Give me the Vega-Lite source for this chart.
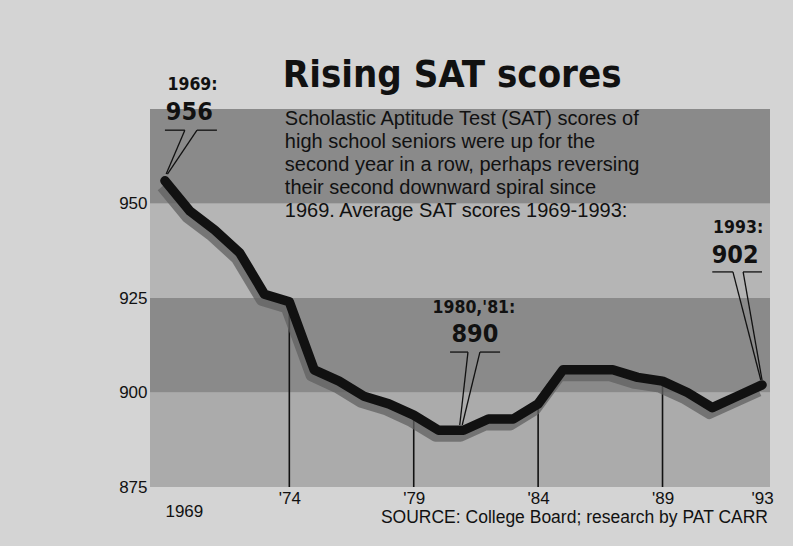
{
  "$schema": "https://vega.github.io/schema/vega-lite/v6.json",
  "width": 620,
  "height": 378,
  "autosize": {"type": "none"},
  "padding": {"left": 150, "top": 109, "right": 23, "bottom": 59},
  "background": "#d4d4d4",
  "config": {
    "view": {"stroke": null},
    "axis": {"grid": false, "ticks": false, "domain": false, "title": null, "labelFont": "Liberation Sans", "labelFontSize": 17, "labelColor": "#111"}
  },
  "datasets": {
    "sat": [
      {"year": 1969, "score": 956}, {"year": 1970, "score": 948}, {"year": 1971, "score": 943},
      {"year": 1972, "score": 937}, {"year": 1973, "score": 926}, {"year": 1974, "score": 924},
      {"year": 1975, "score": 906}, {"year": 1976, "score": 903}, {"year": 1977, "score": 899},
      {"year": 1978, "score": 897}, {"year": 1979, "score": 894}, {"year": 1980, "score": 890},
      {"year": 1981, "score": 890}, {"year": 1982, "score": 893}, {"year": 1983, "score": 893},
      {"year": 1984, "score": 897}, {"year": 1985, "score": 906}, {"year": 1986, "score": 906},
      {"year": 1987, "score": 906}, {"year": 1988, "score": 904}, {"year": 1989, "score": 903},
      {"year": 1990, "score": 900}, {"year": 1991, "score": 896}, {"year": 1992, "score": 899},
      {"year": 1993, "score": 902}
    ],
    "bands": [
      {"lo": 875, "hi": 900, "shade": "lower"},
      {"lo": 900, "hi": 925, "shade": "dark"},
      {"lo": 925, "hi": 950, "shade": "light"},
      {"lo": 950, "hi": 975, "shade": "dark"}
    ],
    "drops": [
      {"year": 1974, "score": 924, "base": 875},
      {"year": 1979, "score": 894, "base": 875},
      {"year": 1984, "score": 897, "base": 875},
      {"year": 1989, "score": 903, "base": 875}
    ],
    "leaders": [
      {"x1": 1969.0, "y1": 969.4, "x2": 1969.8, "y2": 969.4},
      {"x1": 1970.29, "y1": 969.4, "x2": 1971.09, "y2": 969.4},
      {"x1": 1969.8, "y1": 969.4, "x2": 1969.05, "y2": 957.8},
      {"x1": 1970.29, "y1": 969.4, "x2": 1969.1, "y2": 957.8},
      {"x1": 1980.46, "y1": 910.7, "x2": 1981.18, "y2": 910.7},
      {"x1": 1981.66, "y1": 910.7, "x2": 1982.47, "y2": 910.7},
      {"x1": 1981.18, "y1": 910.7, "x2": 1980.85, "y2": 891.4},
      {"x1": 1981.66, "y1": 910.7, "x2": 1980.95, "y2": 891.4},
      {"x1": 1991.0, "y1": 931.9, "x2": 1991.83, "y2": 931.9},
      {"x1": 1992.24, "y1": 931.9, "x2": 1993.0, "y2": 931.9},
      {"x1": 1991.83, "y1": 931.9, "x2": 1992.95, "y2": 903.3},
      {"x1": 1992.24, "y1": 931.9, "x2": 1993.0, "y2": 903.3}
    ],
    "heads": [
      {"year": 1970.11, "score": 980.0, "text": "1969:"},
      {"year": 1981.42, "score": 921.0, "text": "1980,'81:"},
      {"year": 1992.04, "score": 942.2, "text": "1993:"}
    ],
    "values": [
      {"year": 1969.98, "score": 972.1, "text": "956"},
      {"year": 1981.46, "score": 913.4, "text": "890"},
      {"year": 1991.92, "score": 934.3, "text": "902"}
    ],
    "title": [{"year": 1973.74, "score": 980.8, "text": "Rising SAT scores"}],
    "blurb": [{"year": 1973.82, "score": 970.8, "text": "Scholastic Aptitude Test (SAT) scores of\nhigh school seniors were up for the\nsecond year in a row, perhaps reversing\ntheir second downward spiral since\n1969. Average SAT scores 1969-1993:"}],
    "source": [{"year": 1993.24, "score": 865.5, "text": "SOURCE: College Board; research by PAT CARR"}]
  },
  "layer": [
    {
      "data": {"name": "bands"},
      "mark": {"type": "rect"},
      "encoding": {
        "y": {"field": "lo", "type": "quantitative", "scale": {"domain": [875, 975], "nice": false, "zero": false},
              "axis": {"values": [875, 900, 925, 950], "labelPadding": 3}},
        "y2": {"field": "hi"},
        "color": {"field": "shade", "type": "nominal", "scale": {"domain": ["dark", "light", "lower"], "range": ["#8a8a8a", "#b5b5b5", "#ababab"]}, "legend": null}
      }
    },
    {
      "data": {"name": "drops"},
      "mark": {"type": "rule", "color": "#111", "strokeWidth": 1.6},
      "encoding": {
        "x": {"field": "year", "type": "quantitative", "scale": {"domain": [1968.4, 1993.32], "nice": false, "zero": false},
              "axis": {"values": [1969, 1974, 1979, 1984, 1989, 1993],
                       "labelPadding": {"condition": {"test": "datum.value == 1969", "value": 16}, "value": 3},
                       "labelAlign": {"condition": {"test": "datum.value == 1969", "value": "left"}, "value": "center"},
                       "labelExpr": "datum.value == 1969 ? '1969' : \"'\" + substring(toString(datum.value), 2)"}},
        "y": {"field": "score", "type": "quantitative"},
        "y2": {"field": "base"}
      }
    },
    {
      "data": {"name": "sat"},
      "mark": {"type": "line", "color": "#606060", "strokeWidth": 11, "xOffset": -3, "yOffset": 6, "opacity": 0.75, "strokeJoin": "round"},
      "encoding": {
        "x": {"field": "year", "type": "quantitative"},
        "y": {"field": "score", "type": "quantitative"}
      }
    },
    {
      "data": {"name": "sat"},
      "mark": {"type": "line", "color": "#111", "strokeWidth": 9.5, "strokeJoin": "round", "strokeCap": "round"},
      "encoding": {
        "x": {"field": "year", "type": "quantitative"},
        "y": {"field": "score", "type": "quantitative"}
      }
    },
    {
      "data": {"name": "leaders"},
      "mark": {"type": "rule", "color": "#111", "strokeWidth": 1.3},
      "encoding": {
        "x": {"field": "x1", "type": "quantitative"},
        "y": {"field": "y1", "type": "quantitative"},
        "x2": {"field": "x2"},
        "y2": {"field": "y2"}
      }
    },
    {
      "data": {"name": "heads"},
      "mark": {"type": "text", "font": "DejaVu Sans Condensed, Liberation Sans, sans-serif", "fontWeight": "bold", "fontSize": 17.5, "align": "center", "baseline": "alphabetic", "color": "#111"},
      "encoding": {
        "x": {"field": "year", "type": "quantitative"},
        "y": {"field": "score", "type": "quantitative"},
        "text": {"field": "text"}
      }
    },
    {
      "data": {"name": "values"},
      "mark": {"type": "text", "font": "DejaVu Sans Condensed, Liberation Sans, sans-serif", "fontWeight": "bold", "fontSize": 25, "align": "center", "baseline": "alphabetic", "color": "#111"},
      "encoding": {
        "x": {"field": "year", "type": "quantitative"},
        "y": {"field": "score", "type": "quantitative"},
        "text": {"field": "text"}
      }
    },
    {
      "data": {"name": "title"},
      "mark": {"type": "text", "font": "DejaVu Sans Condensed, Liberation Sans, sans-serif", "fontWeight": "bold", "fontSize": 38, "align": "left", "baseline": "alphabetic", "color": "#111"},
      "encoding": {
        "x": {"field": "year", "type": "quantitative"},
        "y": {"field": "score", "type": "quantitative"},
        "text": {"field": "text"}
      }
    },
    {
      "data": {"name": "blurb"},
      "mark": {"type": "text", "font": "Liberation Sans", "fontSize": 20, "lineHeight": 23, "lineBreak": "\n", "align": "left", "baseline": "alphabetic", "color": "#111"},
      "encoding": {
        "x": {"field": "year", "type": "quantitative"},
        "y": {"field": "score", "type": "quantitative"},
        "text": {"field": "text"}
      }
    },
    {
      "data": {"name": "source"},
      "mark": {"type": "text", "font": "Liberation Sans", "fontSize": 17.5, "align": "right", "baseline": "alphabetic", "color": "#111"},
      "encoding": {
        "x": {"field": "year", "type": "quantitative"},
        "y": {"field": "score", "type": "quantitative"},
        "text": {"field": "text"}
      }
    }
  ]
}
